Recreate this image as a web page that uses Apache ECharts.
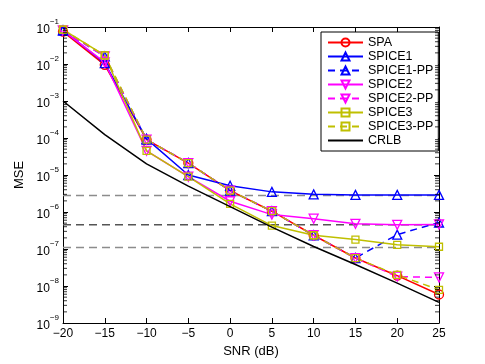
<!DOCTYPE html>
<html>
<head>
<meta charset="utf-8">
<script src="https://cdn.jsdelivr.net/npm/echarts@6/dist/echarts.min.js"></script>
<style>
  html, body { margin: 0; padding: 0; background: #fff; }
  #chart { width: 485px; height: 364px; }
</style>
</head>
<body>
<div id="chart"></div>
<script>
const snr = [-20, -15, -10, -5, 0, 5, 10, 15, 20, 25]
const spa      = [0.075, 0.0095, 9e-5, 2.1e-5, 3.8e-6, 1.05e-6, 2.35e-7, 5.7e-8, 1.9e-8, 5.9e-9]
const spice1   = [0.082, 0.0105, 9.5e-5, 1e-5, 5.1e-6, 3.5e-6, 3.0e-6, 2.9e-6, 2.9e-6, 2.9e-6]
const spice1pp = [0.08, 0.016, 9e-5, 2.1e-5, 3.8e-6, 1.05e-6, 2.35e-7, 5.7e-8, 2.45e-7, 5.2e-7]
const spice2   = [0.08, 0.011, 4.5e-5, 9e-6, 1.95e-6, 8.5e-7, 6.6e-7, 4.8e-7, 4.5e-7, 4.6e-7]
const spice2pp = [0.08, 0.016, 9e-5, 2.1e-5, 3.8e-6, 1.05e-6, 2.35e-7, 5.7e-8, 1.8e-8, 1.7e-8]
const spice3   = [0.085, 0.017, 4.5e-5, 9e-6, 1.65e-6, 4.3e-7, 2.35e-7, 1.8e-7, 1.3e-7, 1.15e-7]
const spice3pp = [0.085, 0.017, 9e-5, 2.1e-5, 3.8e-6, 1.05e-6, 2.35e-7, 5.7e-8, 2.0e-8, 7.9e-9]
const crlb     = [1e-3, 1.23e-4, 2.0e-5, 5e-6, 1.4e-6, 3.9e-7, 1.17e-7, 3.8e-8, 1.2e-8, 3.6e-9]
// horizontal dashed reference levels
const levels = [2.8e-6, 4.5e-7, 1.1e-7]
const levelColors = ['#8c8c8c', '#555555', '#8c8c8c']
const decades = [-9, -8, -7, -6, -5, -4, -3, -2]

const FONT = 'Liberation Sans'
const xMin = snr[0], xMax = snr[snr.length - 1]
const pairs = ys => snr.map((x, i) => [x, ys[i]])

function curve(name, ys, color, symbol, dashed, rotate) {
  return {
    name, type: 'line', data: pairs(ys),
    symbol, symbolSize: symbol === 'rect' ? 7 : 9, symbolRotate: rotate || 0,
    showAllSymbol: true,
    lineStyle: { color, width: 1.5, type: dashed ? [7, 5] : 'solid' },
    itemStyle: { color: 'transparent', borderColor: color, borderWidth: 1.3 },
    color, emphasis: { disabled: true }, z: 3
  }
}

// log minor ticks (2..9 x 10^k) on both vertical edges of the box
const minorVals = []
decades.forEach(k => { for (let m = 2; m <= 9; m++) minorVals.push(m * Math.pow(10, k)) })
const minorTickSeries = (x, off) => ({
  type: 'scatter', data: minorVals.map(v => [x, v]), silent: true, z: 10,
  symbol: 'rect', symbolSize: [4, 1], symbolOffset: [off, 0],
  itemStyle: { color: '#000' }, clip: false, emphasis: { disabled: true }
})

const series = [
  ...levels.map((v, i) => ({
    type: 'line', data: [[xMin, v], [xMax, v]], symbol: 'none', silent: true,
    lineStyle: { color: levelColors[i], width: 1.5, type: [8, 5] }, z: 2
  })),
  curve('SPA', spa, '#ff0000', 'circle', false),
  curve('SPICE1', spice1, '#0000ff', 'triangle', false),
  curve('SPICE1-PP', spice1pp, '#0000ff', 'triangle', true),
  curve('SPICE2', spice2, '#ff00ff', 'triangle', false, 180),
  curve('SPICE2-PP', spice2pp, '#ff00ff', 'triangle', true, 180),
  curve('SPICE3', spice3, '#bfbf00', 'rect', false),
  curve('SPICE3-PP', spice3pp, '#bfbf00', 'rect', true),
  { name: 'CRLB', type: 'line', data: pairs(crlb), symbol: 'none', color: '#000',
    lineStyle: { color: '#000', width: 1.5 }, z: 4 },
  minorTickSeries(xMin, 2),
  minorTickSeries(xMax, -2)
]

const axisLine = { show: true, onZero: false, lineStyle: { color: '#000', width: 1 } }
const tick = { show: true, inside: true, length: 5, lineStyle: { color: '#000' } }

const chart = echarts.init(document.getElementById('chart'), null, { renderer: 'canvas' })
chart.setOption({
  animation: false,
  backgroundColor: '#fff',
  textStyle: { fontFamily: FONT },
  grid: { left: 63, right: 46, top: 27, bottom: 41 },
  legend: {
    data: ['SPA', 'SPICE1', 'SPICE1-PP', 'SPICE2', 'SPICE2-PP', 'SPICE3', 'SPICE3-PP',
      { name: 'CRLB', itemStyle: { color: 'transparent', borderWidth: 0 } }],
    orient: 'vertical', left: 321, top: 32,
    itemWidth: 35, itemHeight: 10, itemGap: 1,
    padding: [4, 5, 4, 6],
    backgroundColor: '#fff', borderColor: '#000', borderWidth: 1,
    textStyle: { fontFamily: FONT, fontSize: 12.5, lineHeight: 12, color: '#000' }
  },
  xAxis: [
    { type: 'value', min: -20, max: 25, interval: 5, position: 'bottom',
      name: 'SNR (dB)', nameLocation: 'middle', nameGap: 22,
      nameTextStyle: { fontFamily: FONT, fontSize: 13, color: '#000' },
      axisLine, axisTick: tick, splitLine: { show: false },
      axisLabel: { fontFamily: FONT, fontSize: 12, color: '#000', margin: 5,
        formatter: v => String(v).replace('-', '\u2212') } },
    { type: 'value', min: -20, max: 25, interval: 5, position: 'top',
      axisLine, axisTick: tick, splitLine: { show: false }, axisLabel: { show: false } }
  ],
  yAxis: [
    { type: 'log', logBase: 10, min: 1e-9, max: 1e-1, interval: 1, position: 'left',
      name: 'MSE', nameLocation: 'middle', nameGap: 31, nameRotate: 90,
      nameTextStyle: { fontFamily: FONT, fontSize: 13, color: '#000' },
      axisLine, axisTick: tick, splitLine: { show: false },
      axisLabel: { margin: 4, color: '#000',
        formatter: v => '{b|10}{e|\u2212' + Math.abs(Math.round(Math.log10(v))) + '}',
        rich: {
          b: { fontFamily: FONT, fontSize: 12, lineHeight: 18, verticalAlign: 'bottom', color: '#000' },
          e: { fontFamily: FONT, fontSize: 8, lineHeight: 10, verticalAlign: 'top', color: '#000' }
        } } },
    { type: 'log', logBase: 10, min: 1e-9, max: 1e-1, interval: 1, position: 'right',
      axisLine, axisTick: tick, splitLine: { show: false }, axisLabel: { show: false } }
  ],
  series
})
</script>
</body>
</html>
